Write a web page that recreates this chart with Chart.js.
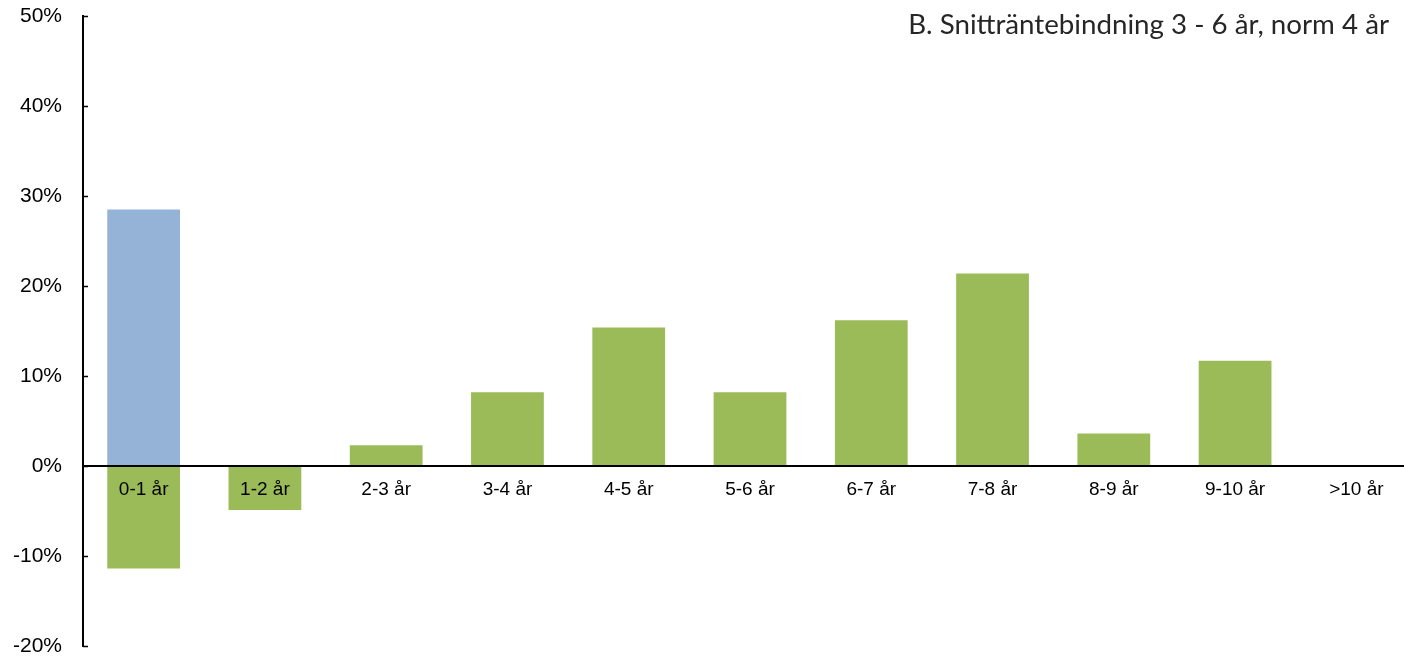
<!DOCTYPE html>
<html>
<head>
<meta charset="utf-8">
<script src="https://cdn.jsdelivr.net/npm/chart.js@4.4.1/dist/chart.umd.min.js"></script>
<style>
  html, body { margin: 0; padding: 0; background: #fff; overflow: hidden; width: 1404px; height: 657px; }
  #wrap { width: 1417px; height: 657px; }
</style>
</head>
<body>
<div id="wrap"><canvas id="c" width="1417" height="657"></canvas></div>
<script>
const categories = ['0-1 år', '1-2 år', '2-3 år', '3-4 år', '4-5 år', '5-6 år', '6-7 år', '7-8 år', '8-9 år', '9-10 år', '>10 år'];
const blueValues = [28.5, 0, 0, 0, 0, 0, 0, 0, 0, 0, 0];
const greenValues = [-11.4, -4.9, 2.3, 8.2, 15.4, 8.2, 16.2, 21.4, 3.6, 11.7, 0];
const yTicks = [-20, -10, 0, 10, 20, 30, 40, 50];
const titleText = 'B. Snitträntebindning 3 - 6 år, norm 4 år';

const extras = {
  id: 'extras',
  afterDraw(chart) {
    const ctx = chart.ctx;
    const y = chart.scales.y;
    const ax = y.right;
    ctx.save();
    ctx.strokeStyle = '#000';
    ctx.lineWidth = 1.5;
    yTicks.forEach(v => {
      const py = Math.round(y.getPixelForValue(v)) + 0.5;
      ctx.beginPath();
      ctx.moveTo(ax, py);
      ctx.lineTo(ax + 5, py);
      ctx.stroke();
    });
    ctx.fillStyle = '#262626';
    ctx.textAlign = 'right';
    ctx.textBaseline = 'alphabetic';
    ctx.font = '100px Lato';
    const w = ctx.measureText(titleText).width;
    const size = 100 * 481 / w;
    ctx.font = size.toFixed(2) + 'px Lato';
    ctx.fillText(titleText, 1389, 34);
    ctx.restore();
  }
};

function noPad(scale) {
  scale.paddingTop = 0; scale.paddingBottom = 0;
  scale.paddingLeft = 0; scale.paddingRight = 0;
}

new Chart(document.getElementById('c'), {
  type: 'bar',
  data: {
    labels: categories,
    datasets: [
      { data: blueValues, backgroundColor: '#95B3D7', borderWidth: 0 },
      { data: greenValues, backgroundColor: '#9BBB59', borderWidth: 0 }
    ]
  },
  options: {
    responsive: false,
    animation: false,
    layout: { padding: { top: 16, bottom: 11, right: 0, left: 0 } },
    plugins: { legend: { display: false }, tooltip: { enabled: false } },
    datasets: { bar: { barPercentage: 0.6, categoryPercentage: 1 } },
    scales: {
      x: {
        stacked: true,
        position: { y: 0 },
        afterFit(scale) { scale.height = 0; noPad(scale); },
        grid: { display: false, drawTicks: false },
        border: { display: true, color: '#000', width: 2, z: 2 },
        ticks: { z: 2, color: '#000', font: { family: 'Liberation Sans, Arial', size: 19 }, padding: 12, maxRotation: 0, autoSkip: false }
      },
      y: {
        stacked: true,
        min: -20, max: 50,
        afterBuildTicks(scale) { scale.ticks = yTicks.map(v => ({ value: v })); },
        afterFit(scale) { scale.width = 83; noPad(scale); },
        grid: { display: false, drawTicks: false },
        border: { display: true, color: '#000', width: 2 },
        ticks: {
          color: '#000',
          font: { family: 'Liberation Sans, Arial', size: 21 },
          padding: 21,
          callback: v => v + '%'
        }
      }
    }
  },
  plugins: [extras]
});
</script>
</body>
</html>
